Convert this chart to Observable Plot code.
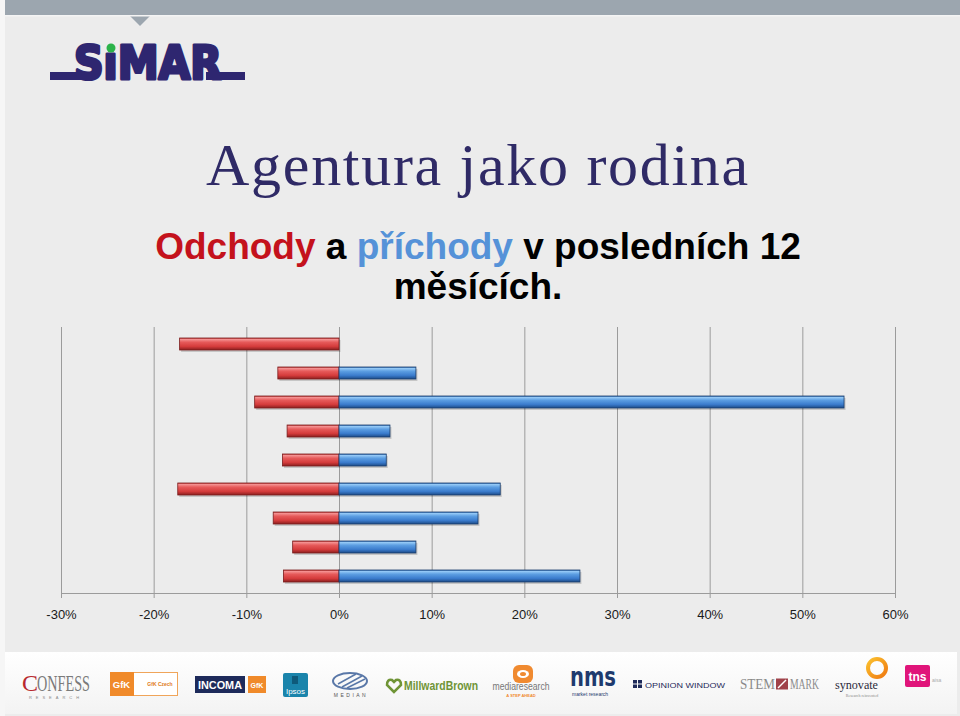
<!DOCTYPE html>
<html>
<head>
<meta charset="utf-8">
<script src="https://cdn.jsdelivr.net/npm/d3@7"></script>
<script src="https://cdn.jsdelivr.net/npm/@observablehq/plot@0.6"></script>
<style>
  html, body { margin: 0; padding: 0; background: #ececec; }
  #slide { position: relative; width: 960px; height: 716px; overflow: hidden; background: #ececec; }
  #decor { position: absolute; left: 0; top: 0; }
  .title { position: absolute; left: 0; width: 956px; text-align: center; margin: 0; white-space: nowrap; }
  #t1 { top: 135px; font-family: "Liberation Serif", "Times New Roman", serif; font-weight: normal; font-size: 60px; line-height: 60px; letter-spacing: 1.7px; color: #2f2a66; }
  #t2 { top: 227px; font-family: "Liberation Sans", Arial, sans-serif; font-weight: bold; font-size: 37px; line-height: 40px; color: #000; }
  #t2 .red { color: #c4121c; }
  #t2 .blue { color: #5592d8; }
  #chart { position: absolute; left: 0; top: 320px; }
</style>
</head>
<body>
<div id="slide">
  <svg id="decor" width="960" height="716" xmlns="http://www.w3.org/2000/svg">
    <defs>
      <linearGradient id="strip" x1="0" y1="0" x2="0" y2="1">
        <stop offset="0" stop-color="#ffffff"/>
        <stop offset="1" stop-color="#f3f3f3"/>
      </linearGradient>
      <linearGradient id="ring" x1="0" y1="0" x2="1" y2="1">
        <stop offset="0" stop-color="#fbc02d"/>
        <stop offset="1" stop-color="#ef7a12"/>
      </linearGradient>
    </defs>
    <rect x="0" y="0" width="960" height="716" fill="#ececec"/>
    <rect x="0" y="0" width="5" height="716" fill="#f6f6f6"/>
    <rect x="5" y="0" width="955" height="15" fill="#9ca6af"/>
    <path d="M129 15 L140 26 L151 15 Z" fill="#9ca6af"/>
    <rect x="5" y="15" width="955" height="1.5" fill="#f4f4f4"/>
    <!-- SIMAR logo -->
    <rect x="50" y="72" width="34" height="8" fill="#2e2670"/>
    <rect x="206" y="72" width="39" height="8" fill="#2e2670"/>
    <text x="74" y="79" font-family="DejaVu Sans" font-weight="bold" font-size="46" textLength="148" lengthAdjust="spacingAndGlyphs" fill="#2e2670" stroke="#2e2670" stroke-width="3.2" stroke-linejoin="round">SıMAR</text>
    <circle cx="111" cy="48" r="4.5" fill="#2bb34a"/>
    <!-- bottom logo strip -->
    <rect x="5" y="652" width="952" height="62" fill="url(#strip)"/>
    <!-- CONFESS -->
    <text x="22" y="691" font-family="Liberation Serif" font-size="24" fill="#b8282e">C</text>
    <text x="37" y="691" font-family="Liberation Serif" font-size="24" textLength="53" lengthAdjust="spacingAndGlyphs" fill="#7a7a7a">ONFESS</text>
    <text x="56" y="699" text-anchor="middle" font-family="Liberation Sans" font-size="4" letter-spacing="4" fill="#888">RESEARCH</text>
    <!-- GfK Czech -->
    <rect x="110.5" y="672.5" width="67" height="23" fill="#fff" stroke="#f0a55a"/>
    <rect x="110" y="672" width="24" height="24" fill="#f08a2a"/>
    <text x="121.5" y="688" text-anchor="middle" font-family="Liberation Sans" font-weight="bold" font-size="9.5" fill="#fff">GfK</text>
    <text x="160" y="686" text-anchor="middle" font-family="Liberation Sans" font-weight="bold" font-size="5" fill="#e07a20">GfK Czech</text>
    <!-- INCOMA GfK -->
    <rect x="195" y="676" width="50" height="17" fill="#1d2a5a"/>
    <text x="220" y="689" text-anchor="middle" font-family="Liberation Sans" font-weight="bold" font-size="11" textLength="44" lengthAdjust="spacingAndGlyphs" fill="#fff">INCOMA</text>
    <rect x="248" y="676" width="18" height="17" fill="#f08a2a"/>
    <text x="257" y="688" text-anchor="middle" font-family="Liberation Sans" font-weight="bold" font-size="7" fill="#fff">GfK</text>
    <!-- Ipsos -->
    <rect x="283" y="673" width="25" height="24" rx="2" fill="#1a84ab"/>
    <path d="M292 676 h6 v8 h-6 z" fill="#0e5a7a"/>
    <text x="295.5" y="694" text-anchor="middle" font-family="Liberation Sans" font-size="8" fill="#fff">Ipsos</text>
    <!-- MEDIAN -->
    <ellipse cx="350" cy="681" rx="17" ry="8" fill="none" stroke="#5a78a8" stroke-width="2"/>
    <path d="M338 684 L356 674 M342 687 L362 676 M347 688 L365 679" stroke="#5a78a8" stroke-width="1.5"/>
    <text x="351" y="697" text-anchor="middle" font-family="Liberation Sans" font-size="5" letter-spacing="2.5" fill="#555">MEDIAN</text>
    <!-- MillwardBrown -->
    <path d="M394 692 L387 685 Q387 679 392 680 L394 682 L396 680 Q401 679 401 685 Z" fill="none" stroke="#6f9436" stroke-width="2.5"/>
    <text x="404" y="690" font-family="Liberation Sans" font-weight="bold" font-size="12" textLength="74" lengthAdjust="spacingAndGlyphs" fill="#6f9436">MillwardBrown</text>
    <!-- mediaresearch -->
    <rect x="513" y="665" width="20" height="18" rx="6" fill="#f08a30"/>
    <ellipse cx="523" cy="674" rx="6" ry="4" fill="#fff"/>
    <ellipse cx="523" cy="674" rx="3" ry="2" fill="#f08a30"/>
    <text x="521" y="690" text-anchor="middle" font-family="Liberation Sans" font-size="10" textLength="57" lengthAdjust="spacingAndGlyphs" fill="#777">mediaresearch</text>
    <text x="521" y="696.5" text-anchor="middle" font-family="Liberation Sans" font-weight="bold" font-size="4" fill="#f08a30">A STEP AHEAD</text>
    <!-- nms -->
    <text x="570" y="686" font-family="DejaVu Sans" font-weight="bold" font-size="26" textLength="46" lengthAdjust="spacingAndGlyphs" fill="#1e3a6e">nms</text>
    <text x="572" y="696" font-family="Liberation Sans" font-size="5" fill="#1e3a6e">market research</text>
    <!-- OPINION WINDOW -->
    <rect x="633" y="680" width="4" height="3.5" fill="#1e2a5a"/><rect x="638" y="680" width="4" height="3.5" fill="#1e2a5a"/>
    <rect x="633" y="684.5" width="4" height="3.5" fill="#1e2a5a"/><rect x="638" y="684.5" width="4" height="3.5" fill="#1e2a5a"/>
    <text x="645" y="688" font-family="Liberation Sans" font-size="8" textLength="80" lengthAdjust="spacingAndGlyphs" fill="#1e2a5a">OPINION WINDOW</text>
    <!-- STEM/MARK -->
    <text x="740" y="689" font-family="Liberation Serif" font-size="14" textLength="35" lengthAdjust="spacingAndGlyphs" fill="#8a8a8a">STEM</text>
    <rect x="776" y="678.5" width="12" height="11" fill="#a0424a"/>
    <path d="M778 688 L786 680" stroke="#fff" stroke-width="1.5"/>
    <text x="790" y="689" font-family="Liberation Serif" font-size="14" textLength="29" lengthAdjust="spacingAndGlyphs" fill="#8a8a8a">MARK</text>
    <!-- synovate -->
    <circle cx="877" cy="668" r="9" fill="none" stroke="url(#ring)" stroke-width="4"/>
    <text x="835" y="689" font-family="Liberation Serif" font-size="13" textLength="43" lengthAdjust="spacingAndGlyphs" fill="#2a2a3a">synovate</text>
    <text x="862" y="697" text-anchor="middle" font-family="Liberation Serif" font-size="4" fill="#888">Research reinvented</text>
    <!-- tns -->
    <rect x="905" y="665" width="25" height="22" rx="2" fill="#e0157a"/>
    <text x="917.5" y="681" text-anchor="middle" font-family="Liberation Sans" font-weight="bold" font-size="12" fill="#fff">tns</text>
    <text x="932" y="682" font-family="Liberation Sans" font-size="5" fill="#aaa">aisa</text>
  </svg>
  <h1 class="title" id="t1">Agentura jako rodina</h1>
  <h2 class="title" id="t2"><span class="red">Odchody</span> a <span class="blue">příchody</span> v posledních 12<br>měsících.</h2>
  <div id="chart"></div>
</div>
<script>
// ---- data ----
const rows = ["1", "2", "3", "4", "5", "6", "7", "8", "9"];
const odchody = [-17.2, -6.6, -9.1, -5.6, -6.1, -17.4, -7.1, -5.0, -6.0];   // departures (%)
const prichody = [null, 8.3, 54.5, 5.5, 5.1, 17.4, 15.0, 8.3, 26.0];       // arrivals (%)
const xTicks = [-30, -20, -10, 0, 10, 20, 30, 40, 50, 60];

const dataOut = rows.map((r, i) => ({row: r, value: odchody[i]}));
const dataIn = rows.map((r, i) => ({row: r, value: prichody[i]})).filter(d => d.value != null);

function gradients() {
  const defs = d3.create("svg:defs");
  const mk = (id, stops) => {
    const g = defs.append("linearGradient").attr("id", id)
      .attr("x1", 0).attr("y1", 0).attr("x2", 0).attr("y2", 1);
    stops.forEach(([o, c]) => g.append("stop").attr("offset", o).attr("stop-color", c));
  };
  mk("gRed", [[0, "#c23b3b"], [0.12, "#f49090"], [0.35, "#e65a5a"], [0.7, "#d53c3c"], [1, "#8c1f1f"]]);
  mk("gBlue", [[0, "#2f6cb5"], [0.12, "#93c8f6"], [0.35, "#5c9ee2"], [0.7, "#3b7ccd"], [1, "#1c4b88"]]);
  return defs.node();
}

const chart = Plot.plot({
  width: 960,
  height: 305,
  marginTop: 7,
  marginBottom: 32,
  marginLeft: 61,
  marginRight: 65,
  style: {background: "transparent", fontFamily: "'Liberation Sans', Arial, sans-serif", fontSize: "13px", overflow: "visible"},
  x: {domain: [-30, 60]},
  y: {domain: rows, paddingInner: 0.594, paddingOuter: 0.297, axis: null},
  marks: [
    gradients,
    Plot.ruleX(xTicks, {stroke: "#9b9b9b", strokeWidth: 1}),
    Plot.frame({anchor: "bottom", stroke: "#9b9b9b"}),
    Plot.axisX({ticks: xTicks, tickFormat: d => d + "%", tickSize: 5, tickPadding: 11, stroke: "#9b9b9b", fill: "#1a1a1a", fontSize: 13, label: null}),
    Plot.barX(dataOut, {x1: 0, x2: "value", y: "row", fill: "#000", fillOpacity: 0.16, dx: 1.5, dy: 2}),
    Plot.barX(dataIn, {x1: 0, x2: "value", y: "row", fill: "#000", fillOpacity: 0.16, dx: 1.5, dy: 2}),
    Plot.barX(dataOut, {x1: 0, x2: "value", y: "row", fill: "url(#gRed)", stroke: "#7a1c1c", strokeWidth: 0.8}),
    Plot.barX(dataIn, {x1: 0, x2: "value", y: "row", fill: "url(#gBlue)", stroke: "#1b3d6c", strokeWidth: 0.8})
  ]
});
document.getElementById("chart").appendChild(chart);
</script>
</body>
</html>
